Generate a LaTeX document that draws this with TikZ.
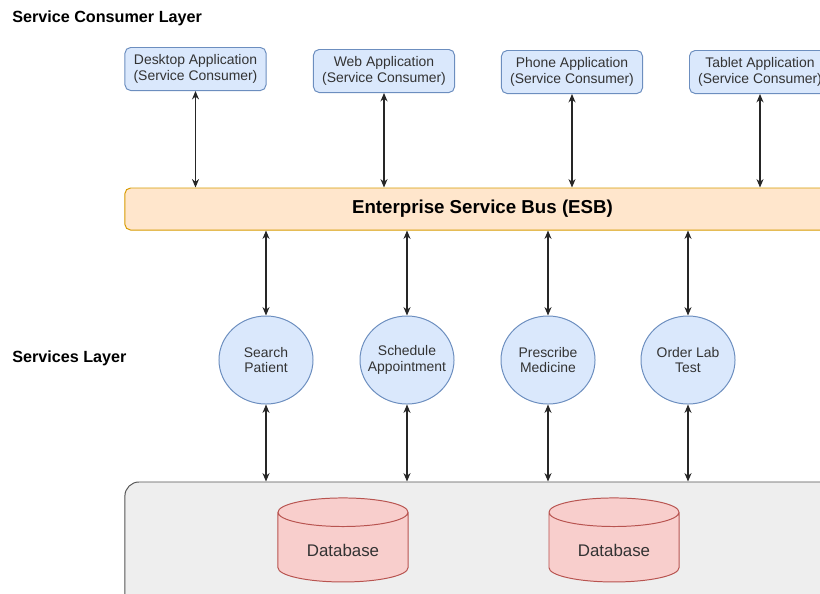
\documentclass[tikz,border=0pt]{standalone}
\usepackage{fontspec}
\setmainfont{Liberation Sans}
\usepackage{tikz}
\usetikzlibrary{shapes.geometric,arrows.meta,positioning}

\definecolor{appfill}{HTML}{DAE8FC}
\definecolor{appline}{HTML}{6C8EBF}
\definecolor{busfill}{HTML}{FFE6CC}
\definecolor{busline}{HTML}{D79B00}
\definecolor{storefill}{HTML}{EEEEEE}
\definecolor{storeline}{HTML}{555555}
\definecolor{dbfill}{HTML}{F8CECC}
\definecolor{dbline}{HTML}{B85450}
\definecolor{txt}{HTML}{333333}

\tikzset{
  appbox/.style   = {rectangle, draw=appline, fill=appfill, rounded corners=4pt,
                     line width=0.7pt,
                     minimum width=3.525cm, minimum height=1.075cm,
                     align=center, text=txt, font=\fontsize{9.9}{11}\selectfont,
                     inner sep=1pt},
  busbox/.style   = {rectangle, draw=busline, fill=busfill, rounded corners=4pt,
                     line width=0.7pt,
                     minimum width=17.875cm, minimum height=1.05cm,
                     font=\bfseries\fontsize{13.3}{15}\selectfont},
  svcnode/.style  = {ellipse, draw=appline, fill=appfill, line width=0.7pt,
                     inner xsep=-5pt, inner ysep=0pt,
                     minimum width=2.35cm, minimum height=2.2cm,
                     align=center, text=txt, font=\fontsize{9.9}{11}\selectfont},
  storebox/.style = {rectangle, draw=storeline, fill=storefill, rounded corners=10pt,
                     line width=0.7pt,
                     minimum width=17.875cm, minimum height=3.3cm},
  dbcyl/.style    = {cylinder, shape border rotate=90, aspect=0.35,
                     draw=dbline, fill=dbfill, text=txt, line width=0.7pt,
                     minimum width=3.25cm, minimum height=2.1cm,
                     font=\fontsize{12}{14}\selectfont},
  layerlbl/.style = {anchor=west, inner sep=0pt,
                     font=\bfseries\fontsize{11.5}{13}\selectfont},
  biarrow/.style  = {{Stealth[length=6pt,width=5pt]}-{Stealth[length=6pt,width=5pt]},
                     line width=0.75pt, black!85},
}

\begin{document}
\begin{tikzpicture}[x=0.025cm, y=-0.025cm]
  \clip (0,0) rectangle (820,593);

  %% ---- Layer titles ----
  \node[layerlbl] (lblcons) at (12,18)  {Service Consumer Layer};
  \node[layerlbl] (lblsvc)  at (12,358) {Services Layer};

  %% ---- Consumers ----
  \node[appbox] (desk)   at (195.5,69) {Desktop Application\\(Service Consumer)};
  \node[appbox] (web)    at (384,71)   {Web Application\\(Service Consumer)};
  \node[appbox] (phone)  at (572,72)   {Phone Application\\(Service Consumer)};
  \node[appbox] (tablet) at (760,72)   {Tablet Application\\(Service Consumer)};

  %% ---- Bus ----
  \node[busbox] (esb) at (482.5,209) {Enterprise Service Bus (ESB)};

  %% ---- Services ----
  \node[svcnode] (srch)  at (266,360) {Search\\Patient};
  \node[svcnode] (sched) at (407,360) {Schedule\\Appointment};
  \node[svcnode] (presc) at (548,360) {Prescribe\\Medicine};
  \node[svcnode] (order) at (688,360) {Order Lab\\Test};

  %% ---- Data store ----
  \node[storebox] (store) at (482.5,548) {};
  \node[dbcyl] (db1) at (343,550) {Database};
  \node[dbcyl] (db2) at (614,550) {Database};

  %% ---- Consumers <-> bus ----
  \foreach \c in {desk,web,phone,tablet}
    \draw[biarrow] (\c.south) -- (\c.south |- esb.north);

  %% ---- Bus <-> services <-> store ----
  \foreach \s in {srch,sched,presc,order} {
    \draw[biarrow] (\s.north |- esb.south) -- (\s.north);
    \draw[biarrow] (\s.south) -- (\s.south |- store.north);
  }

\end{tikzpicture}
\end{document}
